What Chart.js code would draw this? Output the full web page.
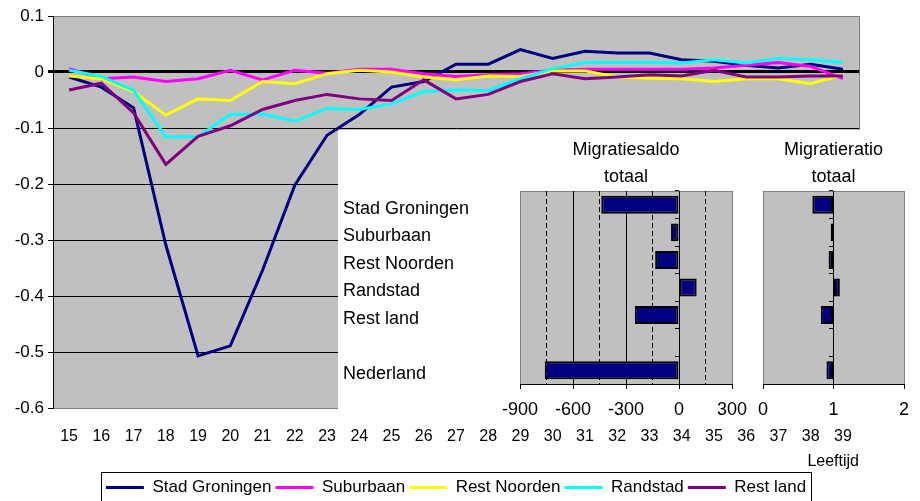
<!DOCTYPE html>
<html>
<head>
<meta charset="utf-8">
<script src="https://cdn.jsdelivr.net/npm/chart.js@4"></script>
<style>
  html, body { margin: 0; padding: 0; background: #fff; }
  #wrap { position: relative; width: 920px; height: 501px; overflow: hidden; }
  #wrap canvas { position: absolute; }
  #main { left: 0; top: 0; }
  #saldo { left: 338px; top: 130px; }
  #ratio { left: 740px; top: 130px; }
</style>
</head>
<body>
<div id="wrap">
  <canvas id="main" width="920" height="501" style="width:920px;height:501px"></canvas>
  <canvas id="saldo" width="422" height="295" style="width:422px;height:295px"></canvas>
  <canvas id="ratio" width="180" height="295" style="width:180px;height:295px"></canvas>
</div>
<script>
// leeftijden 15 t/m 39
const ages = ['15','16','17','18','19','20','21','22','23','24','25','26','27',
              '28','29','30','31','32','33','34','35','36','37','38','39'];

// migratie per leeftijd, per regio
const stadGroningen = [-0.009, -0.027, -0.064, -0.309, -0.507, -0.489, -0.354, -0.202, -0.113,
  -0.076, -0.027, -0.017, 0.014, 0.014, 0.040, 0.024, 0.037, 0.034, 0.034, 0.022, 0.019,
  0.012, 0.007, 0.014, 0.005];
const suburbaan = [0.006, -0.012, -0.009, -0.017, -0.012, 0.003, -0.014, 0.003, -0.002,
  0.005, 0.005, -0.003, -0.008, -0.005, -0.003, 0.003, 0.005, 0.005, 0.005, 0.005, 0.007,
  0.012, 0.017, 0.010, -0.012];
const restNoorden = [-0.007, -0.012, -0.035, -0.077, -0.048, -0.051, -0.017, -0.021, -0.003,
  0.003, 0.000, -0.009, -0.014, -0.007, -0.008, 0.002, 0.002, -0.009, -0.011, -0.012, -0.017,
  -0.012, -0.012, -0.021, -0.005];
const randstad = [0.003, -0.008, -0.033, -0.116, -0.115, -0.076, -0.075, -0.088, -0.065,
  -0.067, -0.057, -0.035, -0.032, -0.033, -0.012, 0.006, 0.017, 0.017, 0.017, 0.016, 0.022,
  0.016, 0.024, 0.022, 0.017];
const restLand = [-0.032, -0.020, -0.073, -0.165, -0.115, -0.096, -0.067, -0.051, -0.040,
  -0.048, -0.051, -0.014, -0.048, -0.040, -0.017, -0.003, -0.012, -0.009, -0.005, -0.007, 0.003,
  -0.009, -0.009, -0.007, -0.007];

// totalen per regio (lege rij tussen Rest land en Nederland)
const regions = ['Stad Groningen', 'Suburbaan', 'Rest Noorden', 'Randstad', 'Rest land', '', 'Nederland'];
const saldoTotaal = [-440, -45, -135, 100, -250, null, -760];
const ratioTotaal = [0.70, 0.96, 0.93, 1.09, 0.82, null, 0.90];

Chart.defaults.font.family = '"Liberation Sans", Arial, sans-serif';
Chart.defaults.color = '#000';

const near = (a, b) => Math.abs(a - b) < 1e-6;

// grey plot background with a thin grey frame
const plotFrame = {
  id: 'plotFrame',
  beforeDraw(chart) {
    const a = chart.chartArea, ctx = chart.ctx;
    ctx.save();
    ctx.fillStyle = '#c0c0c0';
    ctx.fillRect(a.left, a.top, a.right - a.left, a.bottom - a.top);
    ctx.strokeStyle = '#808080';
    ctx.lineWidth = 1;
    ctx.strokeRect(Math.round(a.left) + 0.5, Math.round(a.top) + 0.5,
                   Math.round(a.right - a.left), Math.round(a.bottom - a.top));
    ctx.restore();
  }
};

// white panel that the two total charts sit on
const insetPanel = { x: 338, y: 130, w: 582, h: 295 };
const insetCover = {
  id: 'insetCover',
  afterDatasetsDraw(chart) {
    const ctx = chart.ctx;
    ctx.save();
    ctx.fillStyle = '#fff';
    ctx.fillRect(insetPanel.x, insetPanel.y, insetPanel.w, insetPanel.h);
    ctx.restore();
  }
};

// box around the legend
const legendFrame = {
  id: 'legendFrame',
  afterDraw(chart) {
    const boxes = chart.legend && chart.legend.legendHitBoxes;
    if (!boxes || !boxes.length) return;
    const left = Math.min(...boxes.map(b => b.left)) - 5;
    const right = Math.max(...boxes.map(b => b.left + b.width)) + 5;
    const top = Math.min(...boxes.map(b => b.top)) - 7;
    const ctx = chart.ctx;
    ctx.save();
    ctx.strokeStyle = '#000';
    ctx.lineWidth = 1;
    ctx.strokeRect(Math.round(left) + 0.5, Math.round(top) + 0.5,
                   Math.round(right - left), chart.height - Math.round(top) + 5);
    ctx.restore();
  }
};

const lineSet = (label, data, color, order) => ({
  label, data, order,
  borderColor: color, backgroundColor: color,
  borderWidth: 3, pointRadius: 0, tension: 0
});

new Chart(document.getElementById('main'), {
  type: 'line',
  data: {
    labels: ages,
    datasets: [
      lineSet('Stad Groningen', stadGroningen, '#000080', 4),
      lineSet('Suburbaan', suburbaan, '#ff00ff', 3),
      lineSet('Rest Noorden', restNoorden, '#ffff00', 2),
      lineSet('Randstad', randstad, '#00ffff', 1),
      lineSet('Rest land', restLand, '#800080', 0)
    ]
  },
  options: {
    responsive: false,
    animation: false,
    devicePixelRatio: 1,
    layout: { padding: { top: 16, right: 61, left: 0, bottom: -5 } },
    plugins: {
      tooltip: { enabled: false },
      legend: {
        position: 'bottom',
        fullSize: false,
        labels: {
          usePointStyle: true, pointStyle: 'line', pointStyleWidth: 38,
          font: { size: 17 }, color: '#000', padding: 4,
          sort: (a, b) => a.datasetIndex - b.datasetIndex
        }
      }
    },
    scales: {
      x: {
        offset: true,
        grid: { display: false },
        border: { display: false },
        ticks: { font: { size: 16 }, padding: 11, maxRotation: 0, autoSkip: false },
        title: { display: true, text: 'Leeftijd', align: 'end', font: { size: 16 }, padding: { top: 0, bottom: 4 } },
        afterFit: s => { s.height = 67; }
      },
      y: {
        min: -0.6, max: 0.1,
        ticks: { stepSize: 0.1, font: { size: 17 }, padding: 4, callback: v => +v.toFixed(1) },
        grid: {
          color: c => (c.tick && (near(c.tick.value, 0.1) || near(c.tick.value, -0.6))) ? 'rgba(0,0,0,0)' : '#000',
          lineWidth: c => (c.tick && near(c.tick.value, 0)) ? 3 : 1,
          tickLength: 5, tickColor: '#000'
        },
        border: { color: '#000', width: 1 },
        afterFit: s => { s.width = 53; }
      }
    }
  },
  plugins: [plotFrame, insetCover, legendFrame]
});

const barSet = (data, base) => ({
  data, base,
  backgroundColor: '#000080', borderColor: '#000', borderWidth: 2,
  borderSkipped: false, barPercentage: 0.65, categoryPercentage: 1
});

// axis through the base value, with small ticks between categories
const crossAxis = (at) => ({
  type: 'category', labels: regions, position: { x: at },
  offset: true,
  ticks: { display: false },
  grid: { drawOnChartArea: false, offset: true, tickLength: 4, color: '#000' },
  border: { color: '#000', width: 1 }
});

new Chart(document.getElementById('saldo'), {
  type: 'bar',
  data: { labels: regions, datasets: [barSet(saldoTotaal, 0)] },
  options: {
    indexAxis: 'y',
    responsive: false,
    animation: false,
    devicePixelRatio: 1,
    layout: { padding: { top: 7, right: 28, left: 5, bottom: 0 } },
    plugins: {
      legend: { display: false },
      tooltip: { enabled: false },
      title: {
        display: true, fullSize: false, text: ['Migratiesaldo', 'totaal'],
        font: { size: 18, weight: 'normal', lineHeight: 1.5 }, color: '#000', padding: 0
      }
    },
    scales: {
      x: {
        min: -900, max: 300,
        ticks: {
          stepSize: 150, autoSkip: false, maxRotation: 0, padding: 10, font: { size: 18 },
          callback: v => (v % 300 === 0 ? String(v) : '')
        },
        grid: {
          color: c => (c.tick && (c.tick.value === -900 || c.tick.value === 300)) ? 'rgba(0,0,0,0)' : '#000',
          tickColor: c => (c.tick && c.tick.value % 300 === 0) ? '#000' : 'rgba(0,0,0,0)',
          tickLength: 5, lineWidth: 1
        },
        border: {
          color: '#000', width: 1,
          dash: c => (c.tick && Math.abs(c.tick.value % 300) !== 0) ? [5, 3] : []
        },
        afterFit: s => { s.height = 41; }
      },
      y: {
        grid: { display: false },
        border: { display: false },
        ticks: { crossAlign: 'far', font: { size: 18 }, padding: 0, labelOffset: 4 },
        afterFit: s => { s.width = 177; }
      },
      y2: crossAxis(0)
    }
  },
  plugins: [plotFrame]
});

new Chart(document.getElementById('ratio'), {
  type: 'bar',
  data: { labels: regions, datasets: [barSet(ratioTotaal, 1)] },
  options: {
    indexAxis: 'y',
    responsive: false,
    animation: false,
    devicePixelRatio: 1,
    layout: { padding: { top: 7, right: 16, left: 23, bottom: 0 } },
    plugins: {
      legend: { display: false },
      tooltip: { enabled: false },
      title: {
        display: true, fullSize: false, text: ['Migratieratio', 'totaal'],
        font: { size: 18, weight: 'normal', lineHeight: 1.5 }, color: '#000', padding: 0
      }
    },
    scales: {
      x: {
        min: 0, max: 2,
        ticks: { stepSize: 1, maxRotation: 0, padding: 10, font: { size: 18 } },
        grid: { drawOnChartArea: false, tickLength: 5, tickColor: '#000' },
        border: { color: '#000', width: 1 },
        afterFit: s => { s.height = 41; }
      },
      y: { display: false },
      y2: crossAxis(1)
    }
  },
  plugins: [plotFrame]
});
</script>
</body>
</html>
